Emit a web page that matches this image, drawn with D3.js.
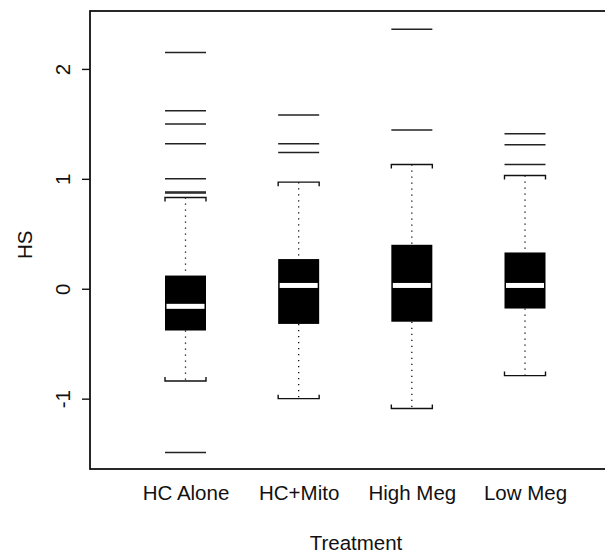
<!DOCTYPE html>
<html>
<head>
<meta charset="utf-8">
<script src="https://cdnjs.cloudflare.com/ajax/libs/d3/7.8.5/d3.min.js"></script>
<style>
  body { margin: 0; background: #fff; }
  text { font-family: "Liberation Sans", Arial, sans-serif; fill: #111; }
</style>
</head>
<body>
<svg width="605" height="554"></svg>
<script>
// treatment groups and their box statistics
var groups   = ["HC Alone", "HC+Mito", "High Meg", "Low Meg"];
var lowWhisk = [-0.84, -1.00, -1.09, -0.79];
var q1       = [-0.38, -0.32, -0.30, -0.18];
var medians  = [-0.16,  0.03,  0.03,  0.03];
var q3       = [ 0.12,  0.27,  0.40,  0.33];
var upWhisk  = [ 0.83,  0.97,  1.13,  1.03];
var outliers = [
  [2.15, 1.62, 1.50, 1.32, 1.00, 0.88, 0.87, -1.49],
  [1.58, 1.32, 1.24],
  [2.36, 1.445],
  [1.41, 1.31, 1.13]
];
var yTicks = [-1, 0, 1, 2];

var svg = d3.select("svg");
var frame = {left: 90, top: 11, right: 607, bottom: 469};
var fontSize = "20.5px";

var x = d3.scalePoint().domain(groups).range([185.5, 525]);
var y = d3.scaleLinear().domain([-1.64, 2.527]).range([frame.bottom, frame.top]);
var boxW = 41;

// frame (right side falls off the picture)
svg.append("rect")
  .attr("x", frame.left).attr("y", frame.top)
  .attr("width", frame.right - frame.left)
  .attr("height", frame.bottom - frame.top)
  .attr("fill", "none").attr("stroke", "#111").attr("stroke-width", 1.8);

// y axis
var yAxis = svg.append("g")
  .attr("transform", "translate(" + frame.left + ",0)")
  .call(d3.axisLeft(y).tickValues(yTicks).tickSize(8).tickFormat(d3.format("d")));
yAxis.select(".domain").remove();
yAxis.selectAll(".tick line").attr("stroke", "#111").attr("stroke-width", 1.4);
yAxis.selectAll(".tick text")
  .attr("transform", "rotate(-90)")
  .attr("x", 0).attr("y", -20).attr("dy", 0)
  .attr("text-anchor", "middle")
  .style("font-size", fontSize)
  .style("font-family", "'Liberation Sans', Arial, sans-serif")
  .attr("fill", "#111")
  .text(function(d) { return d < 0 ? "-" + Math.abs(d) : d; });

// x labels only, no axis line under the frame
var xAxis = svg.append("g")
  .attr("transform", "translate(0," + frame.bottom + ")")
  .call(d3.axisBottom(x).tickSize(0));
xAxis.select(".domain").remove();
xAxis.selectAll(".tick text")
  .attr("y", 31).attr("dy", 0)
  .style("font-size", fontSize)
  .style("font-family", "'Liberation Sans', Arial, sans-serif")
  .attr("fill", "#111");

// axis titles
svg.append("text")
  .attr("x", 356).attr("y", 550)
  .attr("text-anchor", "middle")
  .style("font-size", fontSize)
  .text("Treatment");
svg.append("text")
  .attr("transform", "translate(32," + y(0.4) + ") rotate(-90)")
  .attr("text-anchor", "middle")
  .style("font-size", fontSize)
  .text("HS");

var boxes = svg.append("g").selectAll("g")
  .data(groups).enter().append("g")
  .attr("transform", function(d) { return "translate(" + x(d) + ",0)"; });

// dotted whiskers
boxes.append("line")
  .attr("x1", 0).attr("x2", 0)
  .attr("y1", function(d, i) { return y(upWhisk[i]); })
  .attr("y2", function(d, i) { return y(q3[i]); })
  .attr("stroke", "#111").attr("stroke-width", 1.3)
  .attr("stroke-dasharray", "1.3,4.7");
boxes.append("line")
  .attr("x1", 0).attr("x2", 0)
  .attr("y1", function(d, i) { return y(q1[i]); })
  .attr("y2", function(d, i) { return y(lowWhisk[i]); })
  .attr("stroke", "#111").attr("stroke-width", 1.3)
  .attr("stroke-dasharray", "1.3,4.7");

// whisker caps, bracket shaped
boxes.append("path")
  .attr("d", function(d, i) {
    var yy = y(upWhisk[i]);
    return "M" + (-boxW / 2) + "," + (yy + 4) + "V" + yy + "H" + (boxW / 2) + "V" + (yy + 4);
  })
  .attr("fill", "none").attr("stroke", "#111").attr("stroke-width", 1.4);
boxes.append("path")
  .attr("d", function(d, i) {
    var yy = y(lowWhisk[i]);
    return "M" + (-boxW / 2) + "," + (yy - 4) + "V" + yy + "H" + (boxW / 2) + "V" + (yy - 4);
  })
  .attr("fill", "none").attr("stroke", "#111").attr("stroke-width", 1.4);

// boxes
boxes.append("rect")
  .attr("x", -boxW / 2).attr("width", boxW)
  .attr("y", function(d, i) { return y(q3[i]); })
  .attr("height", function(d, i) { return y(q1[i]) - y(q3[i]); })
  .attr("fill", "#000");

// white median bars
boxes.append("rect")
  .attr("x", -boxW / 2 + 1.5).attr("width", boxW - 3)
  .attr("y", function(d, i) { return y(medians[i]) - 2.5; })
  .attr("height", 5)
  .attr("fill", "#fff");

// outliers drawn as dashes
boxes.selectAll(".out")
  .data(function(d, i) { return outliers[i]; })
  .enter().append("line")
  .attr("class", "out")
  .attr("x1", -boxW / 2).attr("x2", boxW / 2)
  .attr("y1", function(v) { return y(v); })
  .attr("y2", function(v) { return y(v); })
  .attr("stroke", "#222").attr("stroke-width", 1.5);
</script>
</body>
</html>
